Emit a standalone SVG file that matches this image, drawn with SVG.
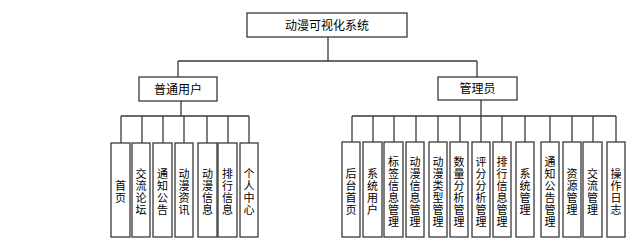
<svg xmlns="http://www.w3.org/2000/svg" width="644" height="245" viewBox="0 0 644 245">
<style>
rect{fill:#fff;stroke:#3a3a3a;stroke-width:1.3}
text{font-family:"Noto Sans CJK SC","Noto Sans",sans-serif;font-size:12px;fill:#000;text-anchor:middle}
.v{font-size:11px}
#connectors path{fill:none;stroke:#3a3a3a;stroke-width:1.3}
</style>
<rect x="0" y="0" width="644" height="245" style="fill:#fff;stroke:none"/>
<g id="connectors">
<path d="M328 37V61M178 61H477M178 61V77M477 61V77"/>
<path d="M181 101V116M121 116H249M121 116V143M142 116V143M163 116V143M184 116V143M207 116V143M228 116V143M249 116V143"/>
<path d="M481 100V116M352 116H616M352 116V142M373 116V142M394 116V142M416 116V142M438 116V142M460 116V142M481 116V142M502 116V142M525 116V142M550 116V142M572 116V142M593 116V142M616 116V142"/>
</g>
<g id="root"><rect x="247" y="13" width="160" height="24"/><text x="327" y="29.5">动漫可视化系统</text></g>
<g id="user"><rect x="139" y="77" width="78" height="24"/><text x="178" y="93.5">普通用户</text></g>
<g id="admin"><rect x="438" y="77" width="79" height="23"/><text x="477.5" y="93">管理员</text></g>
<g id="u1"><rect x="111" y="143" width="19" height="94"/><text class="v" y="190.2"><tspan x="120.5">首</tspan><tspan x="120.5" dy="12">页</tspan></text></g>
<g id="u2"><rect x="132" y="143" width="18" height="94"/><text class="v" y="178.2"><tspan x="141">交</tspan><tspan x="141" dy="12">流</tspan><tspan x="141" dy="12">论</tspan><tspan x="141" dy="12">坛</tspan></text></g>
<g id="u3"><rect x="153" y="143" width="19" height="94"/><text class="v" y="178.2"><tspan x="162.5">通</tspan><tspan x="162.5" dy="12">知</tspan><tspan x="162.5" dy="12">公</tspan><tspan x="162.5" dy="12">告</tspan></text></g>
<g id="u4"><rect x="175" y="143" width="18" height="94"/><text class="v" y="178.2"><tspan x="184">动</tspan><tspan x="184" dy="12">漫</tspan><tspan x="184" dy="12">资</tspan><tspan x="184" dy="12">讯</tspan></text></g>
<g id="u5"><rect x="198" y="143" width="19" height="94"/><text class="v" y="178.2"><tspan x="207.5">动</tspan><tspan x="207.5" dy="12">漫</tspan><tspan x="207.5" dy="12">信</tspan><tspan x="207.5" dy="12">息</tspan></text></g>
<g id="u6"><rect x="218" y="143" width="19" height="94"/><text class="v" y="178.2"><tspan x="227.5">排</tspan><tspan x="227.5" dy="12">行</tspan><tspan x="227.5" dy="12">信</tspan><tspan x="227.5" dy="12">息</tspan></text></g>
<g id="u7"><rect x="240" y="143" width="18" height="94"/><text class="v" y="178.2"><tspan x="249">个</tspan><tspan x="249" dy="12">人</tspan><tspan x="249" dy="12">中</tspan><tspan x="249" dy="12">心</tspan></text></g>
<g id="a1"><rect x="342" y="142" width="18" height="95"/><text class="v" y="178.2"><tspan x="351">后</tspan><tspan x="351" dy="12">台</tspan><tspan x="351" dy="12">首</tspan><tspan x="351" dy="12">页</tspan></text></g>
<g id="a2"><rect x="363" y="142" width="19" height="95"/><text class="v" y="178.2"><tspan x="372.5">系</tspan><tspan x="372.5" dy="12">统</tspan><tspan x="372.5" dy="12">用</tspan><tspan x="372.5" dy="12">户</tspan></text></g>
<g id="a3"><rect x="384" y="142" width="19" height="95"/><text class="v" y="166.2"><tspan x="393.5">标</tspan><tspan x="393.5" dy="12">签</tspan><tspan x="393.5" dy="12">信</tspan><tspan x="393.5" dy="12">息</tspan><tspan x="393.5" dy="12">管</tspan><tspan x="393.5" dy="12">理</tspan></text></g>
<g id="a4"><rect x="406" y="142" width="18" height="95"/><text class="v" y="166.2"><tspan x="415">动</tspan><tspan x="415" dy="12">漫</tspan><tspan x="415" dy="12">信</tspan><tspan x="415" dy="12">息</tspan><tspan x="415" dy="12">管</tspan><tspan x="415" dy="12">理</tspan></text></g>
<g id="a5"><rect x="429" y="142" width="18" height="95"/><text class="v" y="166.2"><tspan x="438">动</tspan><tspan x="438" dy="12">漫</tspan><tspan x="438" dy="12">类</tspan><tspan x="438" dy="12">型</tspan><tspan x="438" dy="12">管</tspan><tspan x="438" dy="12">理</tspan></text></g>
<g id="a6"><rect x="450" y="142" width="18" height="95"/><text class="v" y="166.2"><tspan x="459">数</tspan><tspan x="459" dy="12">量</tspan><tspan x="459" dy="12">分</tspan><tspan x="459" dy="12">析</tspan><tspan x="459" dy="12">管</tspan><tspan x="459" dy="12">理</tspan></text></g>
<g id="a7"><rect x="472" y="142" width="18" height="95"/><text class="v" y="166.2"><tspan x="481">评</tspan><tspan x="481" dy="12">分</tspan><tspan x="481" dy="12">分</tspan><tspan x="481" dy="12">析</tspan><tspan x="481" dy="12">管</tspan><tspan x="481" dy="12">理</tspan></text></g>
<g id="a8"><rect x="493" y="142" width="18" height="95"/><text class="v" y="166.2"><tspan x="502">排</tspan><tspan x="502" dy="12">行</tspan><tspan x="502" dy="12">信</tspan><tspan x="502" dy="12">息</tspan><tspan x="502" dy="12">管</tspan><tspan x="502" dy="12">理</tspan></text></g>
<g id="a9"><rect x="516" y="142" width="18" height="95"/><text class="v" y="178.2"><tspan x="525">系</tspan><tspan x="525" dy="12">统</tspan><tspan x="525" dy="12">管</tspan><tspan x="525" dy="12">理</tspan></text></g>
<g id="a10"><rect x="541" y="142" width="18" height="95"/><text class="v" y="166.2"><tspan x="550">通</tspan><tspan x="550" dy="12">知</tspan><tspan x="550" dy="12">公</tspan><tspan x="550" dy="12">告</tspan><tspan x="550" dy="12">管</tspan><tspan x="550" dy="12">理</tspan></text></g>
<g id="a11"><rect x="563" y="142" width="18" height="95"/><text class="v" y="178.2"><tspan x="572">资</tspan><tspan x="572" dy="12">源</tspan><tspan x="572" dy="12">管</tspan><tspan x="572" dy="12">理</tspan></text></g>
<g id="a12"><rect x="583" y="142" width="19" height="95"/><text class="v" y="178.2"><tspan x="592.5">交</tspan><tspan x="592.5" dy="12">流</tspan><tspan x="592.5" dy="12">管</tspan><tspan x="592.5" dy="12">理</tspan></text></g>
<g id="a13"><rect x="607" y="142" width="18" height="95"/><text class="v" y="178.2"><tspan x="616">操</tspan><tspan x="616" dy="12">作</tspan><tspan x="616" dy="12">日</tspan><tspan x="616" dy="12">志</tspan></text></g>
</svg>
